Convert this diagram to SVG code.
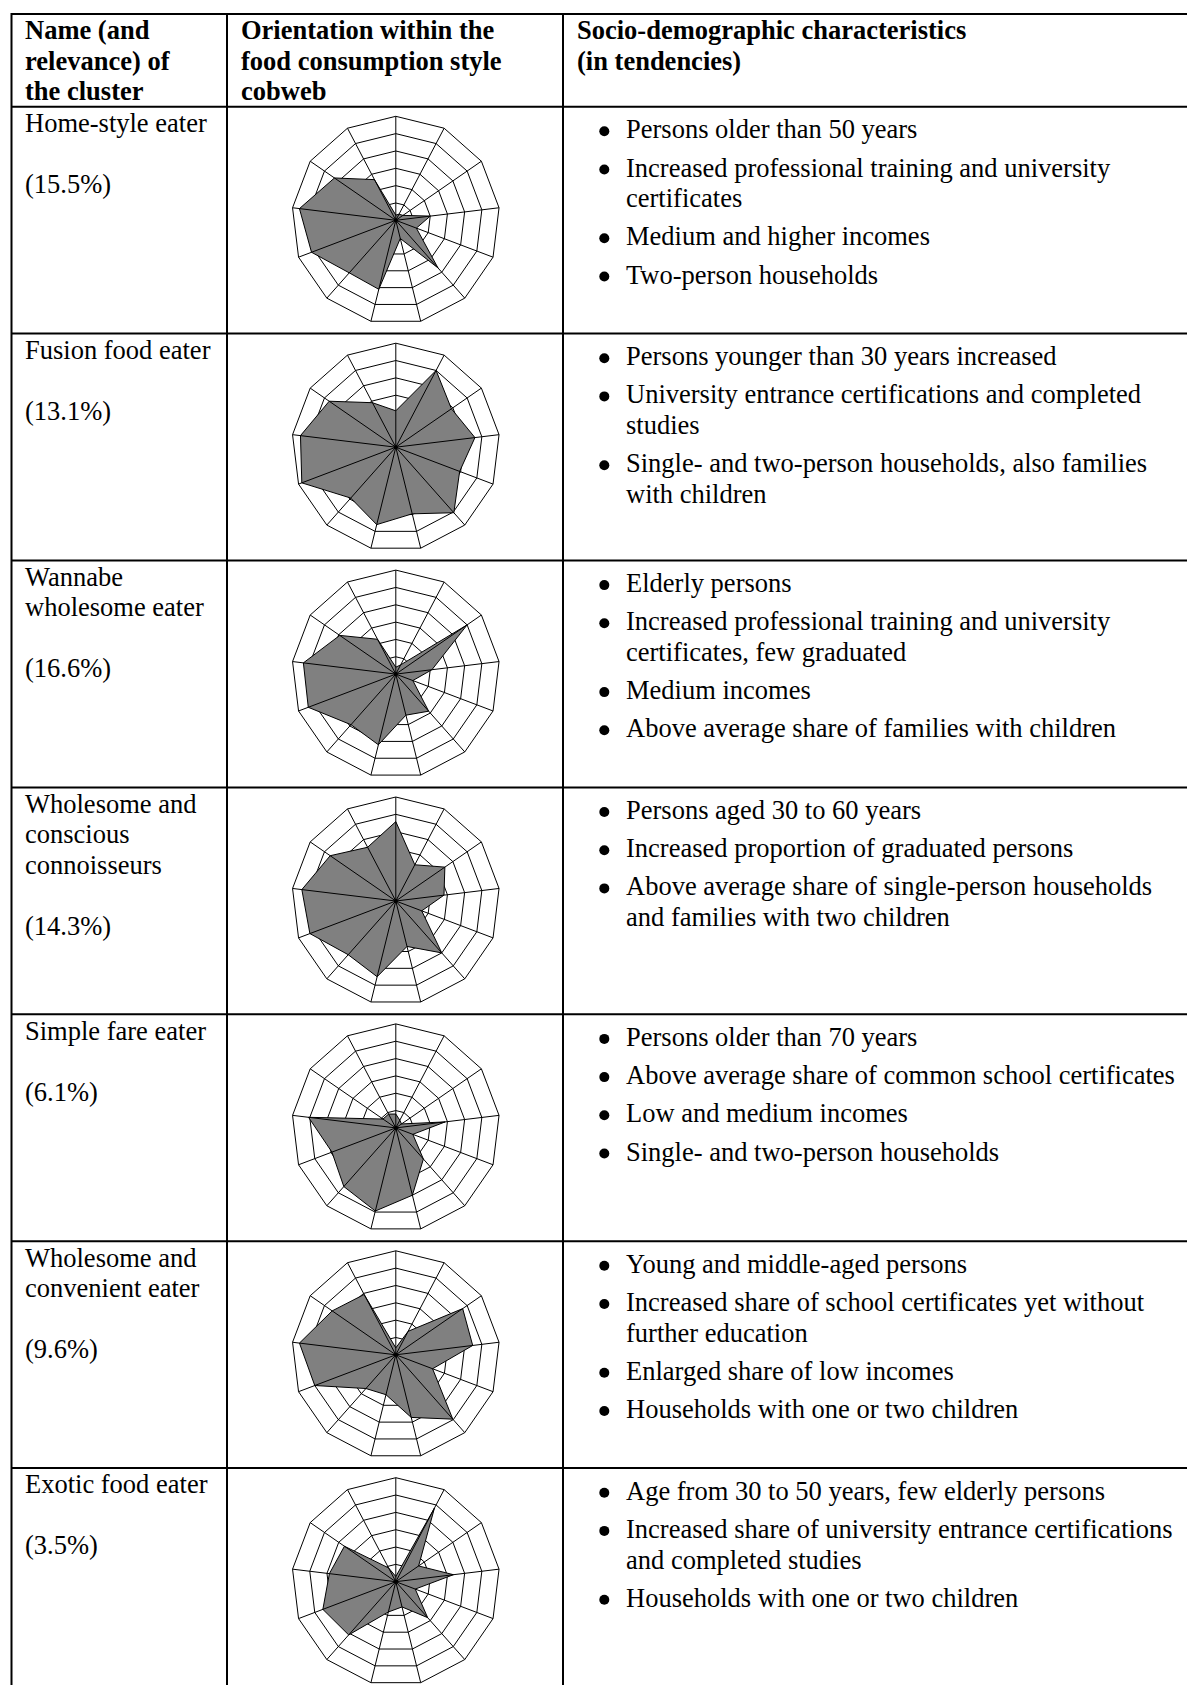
<svg xmlns="http://www.w3.org/2000/svg" xmlns:xlink="http://www.w3.org/1999/xlink" width="1187" height="1685" viewBox="0 0 1187 1685">
<style>
.t{font-family:"Liberation Serif","Times New Roman",serif;font-size:26.5px;fill:#000}
.b{font-family:"Liberation Serif","Times New Roman",serif;font-size:26.5px;font-weight:bold;fill:#000}
.grid{fill:none;stroke:#000;stroke-width:2}
.ring{fill:none;stroke:#000;stroke-width:1}
.spk{fill:none;stroke:#000;stroke-width:1}
.area{fill:#808080;stroke:#000;stroke-width:1;stroke-linejoin:miter}
.dot{fill:#000}
.bul{fill:#000}
</style>
<defs>
<g id="rings" class="ring">
<polygon points="0,-104 48.33,-92.09 85.59,-59.08 103.24,-12.54 97.24,36.88 68.96,77.85 24.89,100.98 -24.89,100.98 -68.96,77.85 -97.24,36.88 -103.24,-12.54 -85.59,-59.08 -48.33,-92.09"/>
<polygon points="0,-86.67 40.28,-76.74 71.33,-49.23 86.03,-10.45 81.04,30.73 57.47,64.87 20.74,84.15 -20.74,84.15 -57.47,64.87 -81.04,30.73 -86.03,-10.45 -71.33,-49.23 -40.28,-76.74"/>
<polygon points="0,-69.33 32.22,-61.39 57.06,-39.39 68.83,-8.36 64.83,24.59 45.98,51.9 16.59,67.32 -16.59,67.32 -45.98,51.9 -64.83,24.59 -68.83,-8.36 -57.06,-39.39 -32.22,-61.39"/>
<polygon points="0,-52 24.17,-46.04 42.8,-29.54 51.62,-6.27 48.62,18.44 34.48,38.92 12.44,50.49 -12.44,50.49 -34.48,38.92 -48.62,18.44 -51.62,-6.27 -42.8,-29.54 -24.17,-46.04"/>
<polygon points="0,-34.67 16.11,-30.7 28.53,-19.69 34.41,-4.18 32.41,12.29 22.99,25.95 8.3,33.66 -8.3,33.66 -22.99,25.95 -32.41,12.29 -34.41,-4.18 -28.53,-19.69 -16.11,-30.7"/>
<polygon points="0,-17.33 8.06,-15.35 14.26,-9.85 17.21,-2.09 16.21,6.15 11.49,12.97 4.15,16.83 -4.15,16.83 -11.49,12.97 -16.21,6.15 -17.21,-2.09 -14.26,-9.85 -8.06,-15.35"/>
</g>
<g id="spokes">
<path class="spk" d="M0,0L0,-104M0,0L48.33,-92.09M0,0L85.59,-59.08M0,0L103.24,-12.54M0,0L97.24,36.88M0,0L68.96,77.85M0,0L24.89,100.98M0,0L-24.89,100.98M0,0L-68.96,77.85M0,0L-97.24,36.88M0,0L-103.24,-12.54M0,0L-85.59,-59.08M0,0L-48.33,-92.09"/>
<circle class="dot" cx="0" cy="0" r="2"/>
</g>
</defs>
<rect x="0" y="0" width="1187" height="1685" fill="#fff"/>

<g id="table-grid" class="grid">
<path d="M11.5,14H1190M11.5,106.7H1190M11.5,333.6H1190M11.5,560.5H1190M11.5,787.4H1190M11.5,1014.3H1190M11.5,1241.2H1190M11.5,1468.1H1190"/>
<path d="M11.5,13V1690M227,13V1690M563,13V1690"/>
</g>

<g id="header">
<text class="b" x="25" y="39.3">Name (and</text>
<text class="b" x="25" y="69.8">relevance) of</text>
<text class="b" x="25" y="100.3">the cluster</text>
<text class="b" x="241" y="39.3">Orientation within the</text>
<text class="b" x="241" y="69.8">food consumption style</text>
<text class="b" x="241" y="100.3">cobweb</text>
<text class="b" x="577" y="39.3">Socio-demographic characteristics</text>
<text class="b" x="577" y="69.8">(in tendencies)</text>
</g>

<g id="row-home-style">
<text class="t" x="25" y="132">Home-style eater</text>
<text class="t" x="25" y="193">(15.5%)</text>
<g id="chart-home-style" transform="translate(395.8,220.3)">
<use xlink:href="#rings"/>
<polygon class="area" points="0,-5.2 3.22,-6.14 7.13,-4.92 34.41,-4.18 20.58,7.81 42.18,47.61 4.48,18.18 -17.01,69 -46.55,52.55 -84.28,31.96 -96.36,-11.7 -61.34,-42.34 -21.35,-40.67"/>
<use xlink:href="#spokes"/>
</g>
<circle class="bul" cx="604.3" cy="131.3" r="5"/>
<text class="t" x="626" y="138.3">Persons older than 50 years</text>
<circle class="bul" cx="604.3" cy="169.5" r="5"/>
<text class="t" x="626" y="176.5">Increased professional training and university</text>
<text class="t" x="626" y="207.1">certificates</text>
<circle class="bul" cx="604.3" cy="238.3" r="5"/>
<text class="t" x="626" y="245.3">Medium and higher incomes</text>
<circle class="bul" cx="604.3" cy="276.5" r="5"/>
<text class="t" x="626" y="283.5">Two-person households</text>
</g>

<g id="row-fusion-food">
<text class="t" x="25" y="358.9">Fusion food eater</text>
<text class="t" x="25" y="419.9">(13.1%)</text>
<g id="chart-fusion-food" transform="translate(395.8,447.2)">
<use xlink:href="#rings"/>
<polygon class="area" points="0,-36.4 40.28,-76.74 55.63,-38.4 79.15,-9.61 63.85,24.22 58.04,65.52 16.43,66.64 -19.08,77.41 -45.06,50.86 -94,35.65 -95.33,-11.58 -66.62,-45.98 -23.36,-44.51"/>
<use xlink:href="#spokes"/>
</g>
<circle class="bul" cx="604.3" cy="358.2" r="5"/>
<text class="t" x="626" y="365.2">Persons younger than 30 years increased</text>
<circle class="bul" cx="604.3" cy="396.4" r="5"/>
<text class="t" x="626" y="403.4">University entrance certifications and completed</text>
<text class="t" x="626" y="434">studies</text>
<circle class="bul" cx="604.3" cy="465.2" r="5"/>
<text class="t" x="626" y="472.2">Single- and two-person households, also families</text>
<text class="t" x="626" y="502.8">with children</text>
</g>

<g id="row-wannabe-wholesome">
<text class="t" x="25" y="585.8">Wannabe</text>
<text class="t" x="25" y="616.3">wholesome eater</text>
<text class="t" x="25" y="677.3">(16.6%)</text>
<g id="chart-wannabe-wholesome" transform="translate(395.8,674.1)">
<use xlink:href="#rings"/>
<polygon class="area" points="0,-6.93 4.83,-9.21 71.33,-49.23 36.13,-4.39 17.02,6.45 32.87,37.1 10.12,41.06 -17.42,70.68 -44.83,50.6 -87.52,33.19 -92.4,-11.22 -56.06,-38.7 -18.29,-34.84"/>
<use xlink:href="#spokes"/>
</g>
<circle class="bul" cx="604.3" cy="585.1" r="5"/>
<text class="t" x="626" y="592.1">Elderly persons</text>
<circle class="bul" cx="604.3" cy="623.3" r="5"/>
<text class="t" x="626" y="630.3">Increased professional training and university</text>
<text class="t" x="626" y="660.9">certificates, few graduated</text>
<circle class="bul" cx="604.3" cy="692.1" r="5"/>
<text class="t" x="626" y="699.1">Medium incomes</text>
<circle class="bul" cx="604.3" cy="730.3" r="5"/>
<text class="t" x="626" y="737.3">Above average share of families with children</text>
</g>

<g id="row-conscious-connoisseurs">
<text class="t" x="25" y="812.7">Wholesome and</text>
<text class="t" x="25" y="843.2">conscious</text>
<text class="t" x="25" y="873.7">connoisseurs</text>
<text class="t" x="25" y="934.7">(14.3%)</text>
<g id="chart-conscious-connoisseurs" transform="translate(395.8,901)">
<use xlink:href="#rings"/>
<polygon class="area" points="0,-79.39 19.01,-36.22 49.07,-33.87 48.18,-5.85 25.93,9.83 45.98,51.9 11.2,45.44 -18.67,75.73 -47.59,53.71 -85.9,32.58 -93.95,-11.41 -65.62,-45.29 -28.19,-53.72"/>
<use xlink:href="#spokes"/>
</g>
<circle class="bul" cx="604.3" cy="812" r="5"/>
<text class="t" x="626" y="819">Persons aged 30 to 60 years</text>
<circle class="bul" cx="604.3" cy="850.2" r="5"/>
<text class="t" x="626" y="857.2">Increased proportion of graduated persons</text>
<circle class="bul" cx="604.3" cy="888.4" r="5"/>
<text class="t" x="626" y="895.4">Above average share of single-person households</text>
<text class="t" x="626" y="926">and families with two children</text>
</g>

<g id="row-simple-fare">
<text class="t" x="25" y="1039.6">Simple fare eater</text>
<text class="t" x="25" y="1100.6">(6.1%)</text>
<g id="chart-simple-fare" transform="translate(395.8,1127.9)">
<use xlink:href="#rings"/>
<polygon class="area" points="0,-13.87 4.03,-7.68 5.7,-3.94 49.39,-6 17.02,6.45 27.59,31.14 16.59,67.32 -20.49,83.14 -51.96,58.65 -63.85,24.22 -87.24,-10.59 -12.84,-8.86 -7.25,-13.81"/>
<use xlink:href="#spokes"/>
</g>
<circle class="bul" cx="604.3" cy="1038.9" r="5"/>
<text class="t" x="626" y="1045.9">Persons older than 70 years</text>
<circle class="bul" cx="604.3" cy="1077.1" r="5"/>
<text class="t" x="626" y="1084.1">Above average share of common school certificates</text>
<circle class="bul" cx="604.3" cy="1115.3" r="5"/>
<text class="t" x="626" y="1122.3">Low and medium incomes</text>
<circle class="bul" cx="604.3" cy="1153.5" r="5"/>
<text class="t" x="626" y="1160.5">Single- and two-person households</text>
</g>

<g id="row-wholesome-convenient">
<text class="t" x="25" y="1266.5">Wholesome and</text>
<text class="t" x="25" y="1297">convenient eater</text>
<text class="t" x="25" y="1358">(9.6%)</text>
<g id="chart-wholesome-convenient" transform="translate(395.8,1354.8)">
<use xlink:href="#rings"/>
<polygon class="area" points="0,-6.93 12.32,-23.48 66.9,-46.18 76.91,-9.34 36.79,13.95 57.01,64.35 15.43,62.61 -9.83,39.89 -29.89,33.73 -81.04,30.73 -96.36,-11.7 -63.62,-43.92 -31.66,-60.32"/>
<use xlink:href="#spokes"/>
</g>
<circle class="bul" cx="604.3" cy="1265.8" r="5"/>
<text class="t" x="626" y="1272.8">Young and middle-aged persons</text>
<circle class="bul" cx="604.3" cy="1304" r="5"/>
<text class="t" x="626" y="1311">Increased share of school certificates yet without</text>
<text class="t" x="626" y="1341.6">further education</text>
<circle class="bul" cx="604.3" cy="1372.8" r="5"/>
<text class="t" x="626" y="1379.8">Enlarged share of low incomes</text>
<circle class="bul" cx="604.3" cy="1411" r="5"/>
<text class="t" x="626" y="1418">Households with one or two children</text>
</g>

<g id="row-exotic-food">
<text class="t" x="25" y="1493.4">Exotic food eater</text>
<text class="t" x="25" y="1554.4">(3.5%)</text>
<g id="chart-exotic-food" transform="translate(395.8,1581.7)">
<use xlink:href="#rings"/>
<polygon class="area" points="0,-5.2 38.66,-73.67 22.82,-15.75 57.64,-7 19.45,7.38 31.84,35.94 6.22,25.24 -7.47,30.29 -47.13,53.2 -72.93,27.66 -66.42,-8.07 -51.35,-35.45 -7.25,-13.81"/>
<use xlink:href="#spokes"/>
</g>
<circle class="bul" cx="604.3" cy="1492.7" r="5"/>
<text class="t" x="626" y="1499.7">Age from 30 to 50 years, few elderly persons</text>
<circle class="bul" cx="604.3" cy="1530.9" r="5"/>
<text class="t" x="626" y="1537.9">Increased share of university entrance certifications</text>
<text class="t" x="626" y="1568.5">and completed studies</text>
<circle class="bul" cx="604.3" cy="1599.7" r="5"/>
<text class="t" x="626" y="1606.7">Households with one or two children</text>
</g>
</svg>
